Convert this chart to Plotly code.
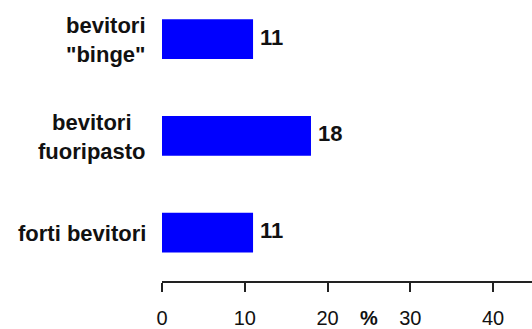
import plotly.graph_objects as go

# Categories listed bottom-to-top, with their percentages
categories = ["forti bevitori", "bevitori<br>fuoripasto", "bevitori<br>\"binge\""]
values = [11, 18, 11]
tick_values = [0, 10, 20, 30, 40]
tick_labels = ["0", "10", "20", "30", "40"]
axis_unit = "%"

positions = list(range(len(categories)))
FONT = "Liberation Sans, Arial, sans-serif"

fig = go.Figure()
fig.add_trace(go.Bar(
    x=values,
    y=positions,
    orientation="h",
    width=0.41,
    marker=dict(color="#0000FF", line=dict(width=0)),
    hoverinfo="skip",
))

annotations = []
# category labels, centred lines, block right-aligned against the plot
for pos, cat in zip(positions, categories):
    annotations.append(dict(
        x=0, xref="paper", y=pos, yref="y",
        text=f"<b>{cat}</b>", showarrow=False,
        xanchor="right", yanchor="middle", align="center",
        xshift=-14, yshift=-1,
        font=dict(family=FONT, size=22, color="#111111"),
    ))
# value labels just past the end of each bar
for pos, v in zip(positions, values):
    annotations.append(dict(
        x=v, xref="x", y=pos, yref="y",
        text=f"<b>{v}</b>", showarrow=False,
        xanchor="left", yanchor="middle", xshift=5, yshift=2,
        font=dict(family=FONT, size=22, color="#111111"),
    ))
# unit label sitting among the tick labels
annotations.append(dict(
    x=25, xref="x", y=0, yref="paper",
    text=f"<b>{axis_unit}</b>", showarrow=False,
    xanchor="center", yanchor="middle", yshift=-37,
    font=dict(family=FONT, size=20, color="#111111"),
))

fig.update_layout(
    width=532, height=329,
    margin=dict(l=162, r=0, t=0, b=45),
    paper_bgcolor="white", plot_bgcolor="white",
    showlegend=False,
    annotations=annotations,
    xaxis=dict(
        range=[0, 44.7],
        tickvals=tick_values, ticktext=tick_labels,
        showgrid=False, zeroline=False,
        showline=True, linecolor="#222222", linewidth=1.5,
        ticks="outside", ticklen=9, tickwidth=1.5, tickcolor="#222222",
        ticklabelstandoff=9,
        tickfont=dict(family=FONT, size=20, color="#111111"),
        fixedrange=True,
    ),
    yaxis=dict(
        range=[-0.5, 2.405],
        showticklabels=False, showgrid=False, zeroline=False,
        showline=False, ticks="",
        fixedrange=True,
    ),
)

fig.write_html("out.html")
